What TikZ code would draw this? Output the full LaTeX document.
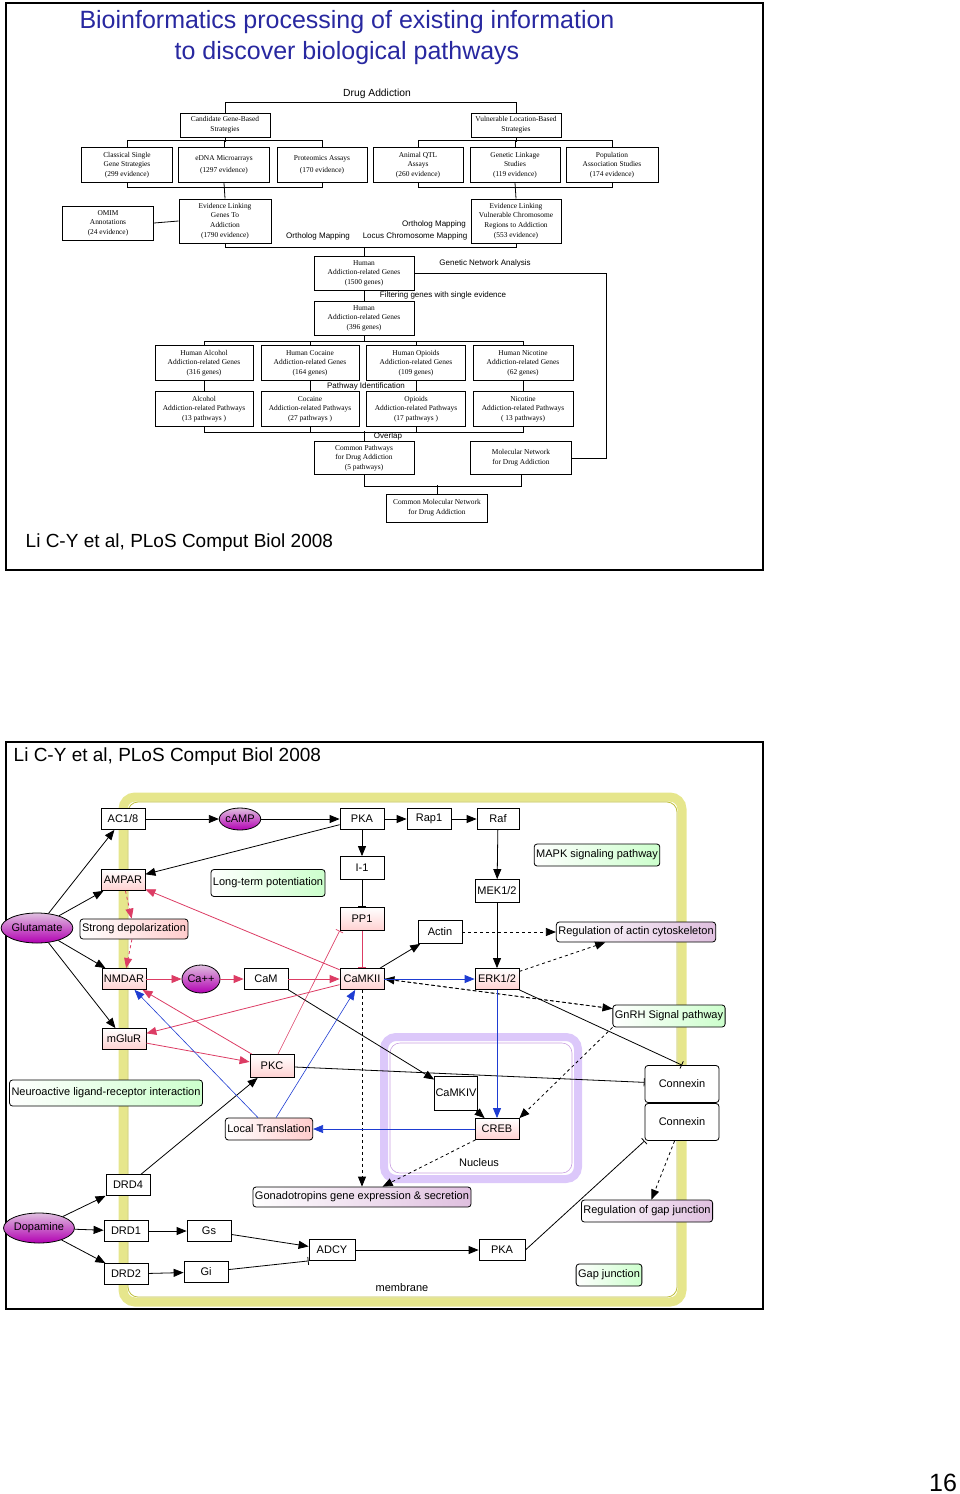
\documentclass[tikz,border=0pt]{standalone}
\usepackage{fontspec}
\setmainfont{Liberation Sans}
\newfontfamily\serifbox{Liberation Serif}
\usetikzlibrary{arrows.meta,shapes.geometric}
\definecolor{titleblue}{RGB}{40,40,160}
\definecolor{memb}{RGB}{230,230,140}
\definecolor{membline}{RGB}{190,190,60}
\definecolor{nucl}{RGB}{220,200,250}
\definecolor{pinkln}{RGB}{220,60,100}
\definecolor{blueln}{RGB}{30,60,210}
\tikzset{
every picture/.style={line width=0.8pt},
fbox/.style={draw, line width=1pt, align=center, inner sep=1pt,
  font=\serifbox\fontsize{7.4}{9.6}\selectfont},
flab/.style={font=\fontsize{8}{9}\selectfont, inner sep=1pt},
gbox/.style={draw, fill=white, minimum height=21pt, minimum width=44pt, inner sep=1pt,
  font=\fontsize{11}{12}\selectfont},
pbox/.style={gbox, top color=white, bottom color=red!18},
ell/.style={draw, ellipse, inner sep=0pt, top color=violet!25, bottom color=violet!60!magenta,
  font=\fontsize{11}{12}\selectfont},
green/.style={draw, rounded corners=3pt, left color=white, right color=green!20,
  minimum height=22pt, inner sep=2pt, font=\fontsize{11}{12}\selectfont},
pink/.style={green, left color=white, right color=violet!25, minimum height=20pt},
pinkr/.style={green, left color=white, right color=red!20, minimum height=20pt},
arr/.style={-{Triangle[length=10pt,width=8pt]}},
inh/.style={-{Bar[width=8pt]}},
pk/.style={draw=pinkln, arr, color=pinkln},
bl/.style={arr, color=blueln},
}
\begin{document}
\begin{tikzpicture}[x=1pt,y=-1pt]
\useasboundingbox (0,0) rectangle (960,1494);
% upper panel
\draw[line width=1.2pt] (6,3) rectangle (763,570);
\node[text=titleblue, font=\fontsize{25}{31}\selectfont, align=center] (title) at (347,38)
  {Bioinformatics processing of existing information\\to discover biological pathways};
\node[anchor=west, font=\fontsize{19}{22}\selectfont] (cite1) at (22,543) {Li C-Y et al, PLoS Comput Biol 2008};
\node[flab, font=\fontsize{10.3}{12}\selectfont] (drug) at (377,94) {Drug Addiction};
\node[fbox, minimum width=90pt, minimum height=24pt] (cand) at (225,125) {Candidate Gene-Based\\Strategies};
\node[fbox, minimum width=90pt, minimum height=24pt] (vuln) at (516,125) {Vulnerable Location-Based\\Strategies};
\node[fbox, minimum width=91pt, minimum height=35pt] (csg) at (127,165) {Classical Single\\Gene Strategies\\(299 evidence)};
\node[fbox, minimum width=91pt, minimum height=35pt] (edna) at (224,165) {eDNA Microarrays\\[2pt](1297 evidence)};
\node[fbox, minimum width=90pt, minimum height=35pt] (prot) at (322,165) {Proteomics Assays\\[2pt](170 evidence)};
\node[fbox, minimum width=90pt, minimum height=35pt] (qtl) at (418,165) {Animal QTL\\Assays\\(260 evidence)};
\node[fbox, minimum width=90pt, minimum height=35pt] (link) at (515,165) {Genetic Linkage\\Studies\\(119 evidence)};
\node[fbox, minimum width=92pt, minimum height=35pt] (pop) at (612,165) {Population\\Association Studies\\(174 evidence)};
\node[fbox, minimum width=91pt, minimum height=34pt] (omim) at (108,223) {OMIM\\Annotations\\(24 evidence)};
\node[fbox, minimum width=92pt, minimum height=44pt] (evg) at (225,221) {Evidence Linking\\Genes To\\Addiction\\(1790 evidence)};
\node[fbox, minimum width=90pt, minimum height=44pt] (evv) at (516,221) {Evidence Linking\\Vulnerable Chromosome\\Regions to Addiction\\(553 evidence)};
\node[fbox, minimum width=100pt, minimum height=34pt] (h1500) at (364,273) {Human\\Addiction-related Genes\\(1500 genes)};
\node[fbox, minimum width=100pt, minimum height=34pt] (h396) at (364,318) {Human\\Addiction-related Genes\\(396 genes)};
\node[fbox, minimum width=98pt, minimum height=35pt] (halc) at (204,363) {Human Alcohol\\Addiction-related Genes\\(316 genes)};
\node[fbox, minimum width=98pt, minimum height=35pt] (hcoc) at (310,363) {Human Cocaine\\Addiction-related Genes\\(164 genes)};
\node[fbox, minimum width=99pt, minimum height=35pt] (hopi) at (416,363) {Human Opioids\\Addiction-related Genes\\(109 genes)};
\node[fbox, minimum width=100pt, minimum height=35pt] (hnic) at (523,363) {Human Nicotine\\Addiction-related Genes\\(62 genes)};
\node[fbox, minimum width=98pt, minimum height=35pt] (palc) at (204,409) {Alcohol\\Addiction-related Pathways\\(13 pathways )};
\node[fbox, minimum width=98pt, minimum height=35pt] (pcoc) at (310,409) {Cocaine\\Addiction-related Pathways\\(27 pathways )};
\node[fbox, minimum width=99pt, minimum height=35pt] (popi) at (416,409) {Opioids\\Addiction-related Pathways\\(17 pathways )};
\node[fbox, minimum width=100pt, minimum height=35pt] (pnic) at (523,409) {Nicotine\\Addiction-related Pathways\\( 13 pathways)};
\node[fbox, minimum width=100pt, minimum height=33pt] (commp) at (364,458) {Common Pathways\\for Drug Addiction\\(5 pathways)};
\node[fbox, minimum width=101pt, minimum height=33pt] (molnet) at (521,458) {Molecular Network\\for Drug Addiction};
\node[fbox, minimum width=101pt, minimum height=28pt] (cmn) at (437,508) {Common Molecular Network\\for Drug Addiction};
\node[flab] (orth1) at (318,236) {Ortholog Mapping};
\node[flab] (orth2) at (434,224) {Ortholog Mapping};
\node[flab] (locus) at (415,236) {Locus Chromosome Mapping};
\node[flab] (gna) at (485,263) {Genetic Network Analysis};
\node[flab] (filt) at (443,295) {Filtering genes with single evidence};
\node[flab] (pathid) at (366,386) {Pathway Identification};
\node[flab] (overl) at (388,436) {Overlap};
\draw (cand.north) -- ++(0,-10) -| (vuln.north);
\draw (cand.south) -- ++(0,4);
\draw (csg.north) -- ++(0,-7) -| (prot.north);
\draw (edna.north) -- ++(0,-7);
\draw (vuln.south) -- ++(0,4);
\draw (qtl.north) -- ++(0,-7) -| (pop.north);
\draw (link.north) -- ++(0,-7);
\draw (csg.south) -- ++(0,4) -| (prot.south);
\draw (edna.south) -- (evg.north);
\draw (qtl.south) -- ++(0,4) -| (pop.south);
\draw (link.south) -- (evv.north);
\draw (omim.east) -- (evg.west);
\draw (evg.south) -- ++(0,4) -| (evv.south);
\draw (h1500.north) -- ++(0,-9);
\draw (h1500.south) -- (h396.north);
\draw (h1500.east) -- ++(192,0) |- (molnet.east);
\draw (h396.south) -- ++(0,6);
\draw (halc.north) -- ++(0,-4) -| (hnic.north);
\draw (hcoc.north) -- ++(0,-4);
\draw (hopi.north) -- ++(0,-4);
\draw (halc.south) -- (palc.north);
\draw (hcoc.south) -- (pcoc.north);
\draw (hopi.south) -- (popi.north);
\draw (hnic.south) -- (pnic.north);
\draw (palc.south) -- ++(0,5) -| (pnic.south);
\draw (pcoc.south) -- ++(0,5);
\draw (popi.south) -- ++(0,5);
\draw (commp.north) -- ++(0,-10);
\draw (commp.south) -- ++(0,11) -| (molnet.south);
\draw (cmn.north) -- ++(0,-9);
% lower panel
\draw[line width=1.2pt] (6,742) rectangle (763,1309);
\node[anchor=west, font=\fontsize{19}{22}\selectfont] (cite2) at (10,757) {Li C-Y et al, PLoS Comput Biol 2008};
\draw[memb, line width=9pt, rounded corners=12pt] (123,797) rectangle (682,1302);
\draw[membline, line width=0.8pt, rounded corners=10pt] (128,802) rectangle (677,1297);
\draw[nucl, line width=8pt, rounded corners=12pt] (384,1037) rectangle (578,1179);
\draw[nucl!80!violet, line width=0.6pt, rounded corners=10pt] (390,1043) rectangle (572,1173);
\node[gbox] (ac) at (123,819) {AC1/8};
\node[ell, minimum width=38pt, minimum height=22pt] (camp) at (240,819) {cAMP};
\node[gbox] (pka) at (362,819) {PKA};
\node[gbox] (rap) at (429,819) {Rap1};
\node[gbox, minimum width=42pt] (raf) at (498,819) {Raf};
\node[green] (mapk) at (597,855) {MAPK signaling pathway};
\node[gbox, minimum height=23pt] (i1) at (362,868) {I-1};
\node[pbox] (ampar) at (123,880) {AMPAR};
\node[green, minimum height=27pt] (ltp) at (268,883) {Long-term potentiation};
\node[gbox, minimum height=23pt] (mek) at (497,891) {MEK1/2};
\node[pbox, minimum height=23pt] (pp1) at (362,919) {PP1};
\node[gbox, minimum height=23pt] (actin) at (440,932) {Actin};
\node[ell, minimum width=62pt, minimum height=30pt] (glu) at (37,928) {Glutamate};
\node[pinkr] (sdep) at (134,929) {Strong depolarization};
\node[pink] (ract) at (636,932) {Regulation of actin cytoskeleton};
\node[pbox] (nmdar) at (124,979) {NMDAR};
\node[ell, minimum width=32pt, minimum height=28pt] (ca) at (201,979) {Ca++};
\node[gbox] (cam) at (266,979) {CaM};
\node[pbox] (camkii) at (362,979) {CaMKII};
\node[pbox] (erk) at (497,979) {ERK1/2};
\node[green] (gnrh) at (669,1016) {GnRH Signal pathway};
\node[pbox] (mglur) at (124,1039) {mGluR};
\node[pbox, minimum height=23pt] (pkc) at (272,1066) {PKC};
\node[green, minimum height=26pt] (neuro) at (106,1093) {Neuroactive ligand-receptor interaction};
\node[gbox, minimum width=40pt, minimum height=34pt] (camkiv) at (456,1093) {CaMKIV};
\node[gbox, rounded corners=3pt, minimum width=74pt, minimum height=37pt] (cx1) at (682,1084) {Connexin};
\node[gbox, rounded corners=3pt, minimum width=74pt, minimum height=37pt] (cx2) at (682,1122) {Connexin};
\node[pinkr, minimum height=22pt] (ltr) at (269,1129) {Local Translation};
\node[pbox] (creb) at (497,1129) {CREB};
\node[font=\fontsize{11}{12}\selectfont] (nucleus) at (479,1163) {Nucleus};
\node[gbox] (drd4) at (128,1185) {DRD4};
\node[pink] (gona) at (362,1197) {Gonadotropins gene expression \& secretion};
\node[pink, minimum height=22pt] (rgap) at (647,1211) {Regulation of gap junction};
\node[ell, minimum width=58pt, minimum height=30pt] (dopa) at (39,1228) {Dopamine};
\node[gbox] (drd1) at (126,1231) {DRD1};
\node[gbox] (gs) at (209,1231) {Gs};
\node[gbox, minimum width=46pt] (adcy) at (332,1250) {ADCY};
\node[gbox, minimum width=46pt] (pkab) at (502,1250) {PKA};
\node[gbox] (drd2) at (126,1274) {DRD2};
\node[gbox] (gi) at (206,1272) {Gi};
\node[green] (gapj) at (609,1275) {Gap junction};
\node[font=\fontsize{11}{12}\selectfont] (membr) at (402,1288) {membrane};
\node[font=\fontsize{25}{28}\selectfont] (pageno) at (943,1483) {16};
% black links
\foreach \t in {ac,ampar,nmdar,mglur} \draw[arr] (glu) -- (\t);
\foreach \t in {drd4,drd1,drd2} \draw[arr] (dopa) -- (\t);
\draw[arr] (ac) -- (camp);
\draw[arr] (camp) -- (pka);
\draw[arr] (pka) -- (rap);
\draw[arr] (rap) -- (raf);
\draw[arr] (raf) -- (mek);
\draw[arr] (mek) -- (erk);
\draw[arr] (pka) -- (ampar);
\draw[arr] (pka) -- (i1);
\draw[inh] (i1) -- (pp1);
\draw[arr] (camkii) -- (actin);
\draw[arr, dashed] (actin) -- (ract);
\draw[arr, dashed] (erk) -- (ract);
\draw[arr] (cam.south east) -- (camkiv);
\draw[arr] (camkiv) -- (creb);
\draw[inh] (erk.south east) -- (cx1.north);
\draw[inh] (pkc) -- (cx1);
\draw[arr] (drd4) -- (pkc);
\draw[arr] (drd1) -- (gs);
\draw[arr] (drd2) -- (gi);
\draw[arr] (gs) -- (adcy);
\draw[inh] (gi) -- (adcy.south west);
\draw[arr] (adcy) -- (pkab);
\draw[inh] (pkab.east) -- (cx2.south west);
\draw[arr, dashed] (cx2) -- (rgap);
\draw[arr, dashed] (camkii.south) -- (camkii.south |- gona.north);
\draw[arr, dashed] (creb) -- (gona);
\draw[arr, dashed] (camkii.east) -- (gnrh);
\draw[arr, dashed] (gnrh) -- (camkii.east);
\draw[arr, dashed] (gnrh.south west) -- (creb.north east);
% pink links
\draw[pk, dashed] (ampar) -- (sdep);
\draw[pk, dashed] (sdep) -- (nmdar);
\draw[pk] (nmdar) -- (ca);
\draw[pk] (ca) -- (cam);
\draw[pk] (cam) -- (camkii);
\draw[pk] (camkii) -- (ampar);
\draw[pk] (camkii) -- (mglur);
\draw[pk] (mglur) -- (pkc);
\draw[pk] (pkc) -- (nmdar);
\draw[inh, color=pinkln] (pp1) -- (camkii);
\draw[inh, color=pinkln, line width=0.6pt] (pkc) -- (pp1.south west);
% blue links
\draw[bl] (camkii) -- (erk);
\draw[bl] (erk) -- (creb);
\draw[bl] (creb) -- (ltr);
\draw[bl, line width=0.6pt] (ltr) -- (nmdar);
\draw[bl, line width=0.6pt] (ltr) -- (camkii);
\end{tikzpicture}
\end{document}
